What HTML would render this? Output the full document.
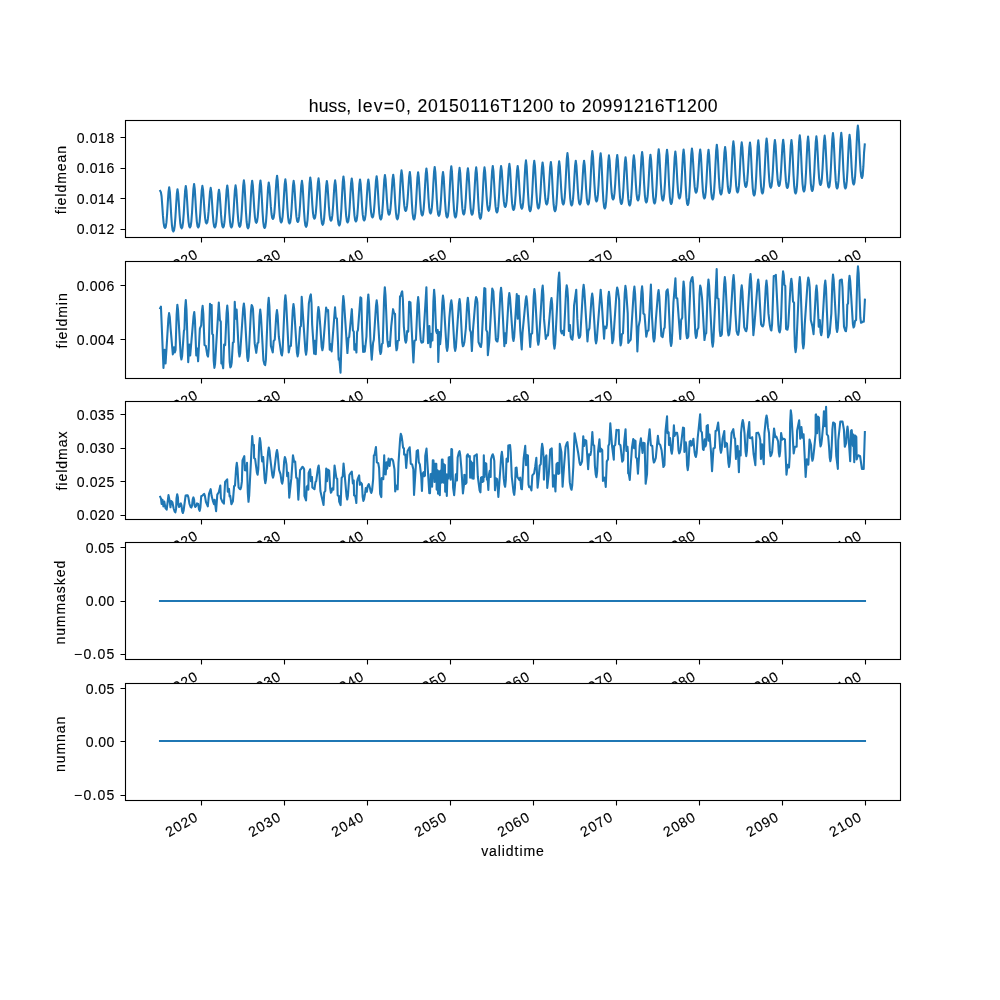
<!DOCTYPE html>
<html lang="en"><head><meta charset="utf-8"><title>huss, lev=0, 20150116T1200 to 20991216T1200</title>
<style>html,body{margin:0;padding:0;background:#fff}body{width:1000px;height:1000px;overflow:hidden}svg{display:block;will-change:transform}text{font-family:"Liberation Sans",sans-serif;fill:#000;stroke:#000;stroke-width:.15px}.t{font-size:14.05px}.ti{font-size:17.6px;stroke-width:.1px}.sp{fill:#fff;stroke:#000;stroke-width:1.111}.tk{stroke:#000;stroke-width:1.111;fill:none}.ln{fill:none;stroke:#1f77b4;stroke-width:2.083;stroke-linejoin:round;stroke-linecap:square}</style></head><body>
<svg width="1000" height="1000" viewBox="0 0 1000 1000">
<rect x="0" y="0" width="1000" height="1000" fill="#fff"/>
<g id="ax1">
<rect class="sp" x="125.5" y="120.5" width="775" height="117"/>
<polyline class="ln" points="160.23,191.00 160.90,192.20 161.57,196.22 162.26,205.57 162.95,215.63 163.65,223.12 164.34,227.01 165.04,228.00 165.74,226.87 166.43,222.44 167.12,213.90 167.81,202.43 168.52,191.78 169.19,187.20 169.88,192.18 170.57,203.74 171.27,216.19 171.96,225.46 172.65,230.27 173.36,231.50 174.05,230.33 174.74,225.73 175.44,216.89 176.13,204.99 176.83,193.95 177.50,189.20 178.17,193.59 178.87,203.80 179.56,214.79 180.25,222.97 180.94,227.22 181.65,228.30 182.34,227.13 183.03,222.53 183.73,213.69 184.42,201.79 185.12,190.75 185.79,186.00 186.46,190.66 187.16,201.50 187.85,213.16 188.54,221.84 189.24,226.35 189.94,227.50 190.63,226.29 191.33,221.57 192.02,212.47 192.71,200.24 193.42,188.89 194.09,184.00 194.76,188.89 195.45,200.24 196.14,212.47 196.83,221.57 197.53,226.29 198.23,227.50 198.92,226.34 199.62,221.82 200.31,213.09 201.00,201.37 201.71,190.48 202.38,185.80 203.07,190.04 203.76,199.88 204.46,210.47 205.15,218.36 205.84,222.46 206.55,223.50 207.24,222.51 207.93,218.63 208.62,211.17 209.32,201.13 210.02,191.81 210.69,187.80 211.36,192.26 212.05,202.62 212.75,213.78 213.44,222.09 214.13,226.40 214.84,227.50 215.53,226.45 216.22,222.35 216.92,214.44 217.61,203.81 218.31,193.95 218.98,189.70 219.65,193.95 220.35,203.81 221.04,214.44 221.73,222.35 222.42,226.45 223.13,227.50 223.82,226.34 224.51,221.77 225.21,212.99 225.90,201.18 226.60,190.22 227.27,185.50 227.94,190.22 228.64,201.18 229.33,212.99 230.02,221.77 230.72,226.34 231.42,227.50 232.11,226.33 232.81,221.75 233.50,212.92 234.19,201.06 234.90,190.04 235.57,185.30 236.26,189.96 236.95,200.80 237.64,212.46 238.34,221.14 239.03,225.65 239.73,226.80 240.43,225.51 241.12,220.46 241.81,210.73 242.51,197.66 243.21,185.52 243.88,180.30 244.55,185.69 245.24,198.22 245.94,211.72 246.63,221.76 247.32,226.97 248.03,228.30 248.72,226.98 249.41,221.81 250.10,211.85 250.80,198.47 251.50,186.05 252.17,180.70 252.84,185.43 253.53,196.42 254.23,208.25 254.92,217.06 255.61,221.63 256.32,222.80 257.01,221.63 257.70,217.03 258.40,208.19 259.09,196.29 259.79,185.25 260.46,180.50 261.13,185.84 261.83,198.24 262.52,211.59 263.21,221.53 263.90,226.68 264.61,228.00 265.30,226.74 265.99,221.80 266.69,212.28 267.38,199.49 268.08,187.61 268.75,182.50 269.45,186.60 270.14,196.13 270.83,206.39 271.53,214.02 272.22,217.99 272.92,219.00 273.62,217.80 274.31,213.10 275.00,204.04 275.69,191.87 276.40,180.56 277.07,175.70 277.74,180.96 278.43,193.18 279.12,206.33 279.82,216.12 280.51,221.20 281.21,222.50 281.91,221.30 282.60,216.61 283.29,207.57 283.99,195.43 284.69,184.15 285.36,179.30 286.03,184.27 286.72,195.80 287.42,208.23 288.11,217.47 288.80,222.27 289.51,223.50 290.20,222.32 290.89,217.68 291.58,208.75 292.28,196.74 292.98,185.60 293.65,180.80 294.32,185.43 295.01,196.18 295.71,207.77 296.40,216.38 297.09,220.86 297.80,222.00 298.49,220.86 299.18,216.38 299.88,207.77 300.57,196.18 301.27,185.43 301.94,180.80 302.64,185.97 303.33,197.98 304.02,210.91 304.71,220.53 305.41,225.53 306.11,226.80 306.80,225.43 307.50,220.08 308.19,209.77 308.88,195.91 309.59,183.04 310.26,177.50 310.93,182.13 311.62,192.88 312.31,204.47 313.01,213.08 313.70,217.56 314.40,218.70 315.10,217.58 315.79,213.19 316.48,204.74 317.17,193.39 317.88,182.84 318.55,178.30 319.22,183.52 319.91,195.66 320.60,208.73 321.30,218.46 321.99,223.51 322.69,224.80 323.39,223.59 324.08,218.83 324.77,209.67 325.47,197.36 326.17,185.92 326.84,181.00 327.51,185.46 328.20,195.82 328.90,206.98 329.59,215.29 330.28,219.60 330.99,220.70 331.68,219.58 332.37,215.19 333.06,206.74 333.76,195.39 334.46,184.84 335.13,180.30 335.82,185.38 336.52,197.18 337.21,209.88 337.90,219.34 338.60,224.25 339.30,225.50 339.99,224.14 340.69,218.82 341.38,208.57 342.07,194.80 342.78,182.00 343.45,176.50 344.12,181.67 344.81,193.68 345.50,206.61 346.19,216.23 346.89,221.23 347.59,222.50 348.28,221.28 348.98,216.50 349.67,207.30 350.36,194.93 351.07,183.44 351.74,178.50 352.41,183.33 353.10,194.56 353.79,206.64 354.49,215.64 355.18,220.31 355.88,221.50 356.58,220.34 357.27,215.77 357.96,206.99 358.65,195.18 359.36,184.22 360.03,179.50 360.70,184.11 361.39,194.81 362.08,206.33 362.78,214.91 363.47,219.36 364.17,220.50 364.87,219.36 365.56,214.91 366.25,206.33 366.95,194.81 367.65,184.11 368.32,179.50 369.01,183.77 369.71,193.69 370.40,204.37 371.09,212.32 371.78,216.45 372.49,217.50 373.18,216.36 373.87,211.87 374.57,203.23 375.26,191.62 375.96,180.84 376.63,176.20 377.30,181.06 378.00,192.37 378.69,204.54 379.38,213.60 380.08,218.30 380.78,219.50 381.47,218.27 382.17,213.43 382.86,204.13 383.55,191.62 384.26,180.00 384.93,175.00 385.60,179.46 386.29,189.82 386.98,200.98 387.67,209.29 388.37,213.60 389.07,214.70 389.76,213.59 390.46,209.25 391.15,200.88 391.84,189.64 392.55,179.19 393.22,174.70 393.89,179.71 394.58,191.35 395.27,203.89 395.97,213.22 396.66,218.06 397.36,219.30 398.06,217.94 398.75,212.62 399.44,202.37 400.13,188.60 400.84,175.80 401.51,170.30 402.20,174.87 402.89,185.50 403.59,196.94 404.28,205.45 404.97,209.87 405.68,211.00 406.37,209.92 407.06,205.68 407.76,197.53 408.45,186.56 409.15,176.38 409.82,172.00 410.49,177.34 411.19,189.74 411.88,203.09 412.57,213.03 413.26,218.18 413.97,219.50 414.66,218.19 415.35,213.05 416.05,203.16 416.74,189.86 417.44,177.51 418.11,172.20 418.78,177.06 419.48,188.37 420.17,200.54 420.86,209.60 421.56,214.30 422.26,215.50 422.95,214.20 423.65,209.09 424.34,199.26 425.03,186.05 425.74,173.78 426.41,168.50 427.08,173.56 427.77,185.30 428.46,197.95 429.15,207.37 429.85,212.25 430.55,213.50 431.24,212.21 431.94,207.16 432.63,197.43 433.32,184.36 434.03,172.22 434.70,167.00 435.39,172.48 436.08,185.22 436.78,198.94 437.47,209.15 438.16,214.45 438.87,215.80 439.56,214.59 440.25,209.83 440.94,200.67 441.64,188.36 442.34,176.92 443.01,172.00 443.68,177.11 444.37,188.99 445.07,201.78 445.76,211.30 446.45,216.24 447.16,217.50 447.85,216.08 448.54,210.51 449.24,199.78 449.93,185.36 450.63,171.96 451.30,166.20 451.97,171.96 452.67,185.36 453.36,199.78 454.05,210.51 454.74,216.08 455.45,217.50 456.14,216.12 456.83,210.73 457.53,200.33 458.22,186.36 458.92,173.38 459.59,167.80 460.26,173.05 460.96,185.24 461.65,198.37 462.34,208.13 463.04,213.21 463.74,214.50 464.43,213.22 465.13,208.19 465.82,198.50 466.51,185.49 467.22,173.40 467.89,168.20 468.58,173.42 469.27,185.56 469.96,198.63 470.66,208.36 471.35,213.41 472.05,214.70 472.75,213.39 473.44,208.24 474.13,198.32 474.83,185.00 475.53,172.63 476.20,167.30 476.87,173.07 477.56,186.49 478.26,200.94 478.95,211.69 479.64,217.28 480.35,218.70 481.04,217.28 481.73,211.69 482.42,200.94 483.12,186.49 483.82,173.07 484.49,167.30 485.16,172.19 485.85,183.54 486.55,195.77 487.24,204.87 487.93,209.59 488.64,210.80 489.33,209.56 490.02,204.69 490.72,195.32 491.41,182.73 492.11,171.03 492.78,166.00 493.45,171.22 494.15,183.36 494.84,196.43 495.53,206.16 496.22,211.21 496.93,212.50 497.62,211.21 498.31,206.16 499.01,196.43 499.70,183.36 500.40,171.22 501.07,166.00 501.77,170.61 502.46,181.31 503.15,192.83 503.85,201.41 504.54,205.86 505.24,207.00 505.93,205.80 506.63,201.11 507.32,192.07 508.01,179.93 508.72,168.65 509.39,163.80 510.06,168.99 510.75,181.05 511.44,194.04 512.14,203.70 512.83,208.72 513.53,210.00 514.23,208.78 514.92,204.00 515.61,194.80 516.30,182.43 517.01,170.94 517.68,166.00 518.35,170.80 519.04,181.94 519.74,193.95 520.43,202.88 521.12,207.52 521.83,208.70 522.52,207.36 523.21,202.10 523.90,191.98 524.60,178.37 525.30,165.74 525.97,160.30 526.64,166.02 527.33,179.31 528.03,193.61 528.72,204.26 529.41,209.79 530.12,211.20 530.81,209.80 531.50,204.33 532.20,193.79 532.89,179.62 533.59,166.46 534.26,160.80 534.96,166.16 535.65,178.61 536.34,192.02 537.03,202.00 537.73,207.18 538.43,208.50 539.12,207.23 539.82,202.23 540.51,192.61 541.20,179.68 541.91,167.67 542.58,162.50 543.25,167.22 543.94,178.18 544.63,189.99 545.33,198.77 546.02,203.34 546.72,204.50 547.41,203.32 548.11,198.71 548.80,189.82 549.49,177.87 550.20,166.77 550.87,162.00 551.54,167.53 552.23,180.37 552.92,194.20 553.62,204.49 554.31,209.84 555.01,211.20 555.71,209.81 556.40,204.38 557.09,193.93 557.78,179.87 558.49,166.82 559.16,161.20 559.83,166.06 560.52,177.37 561.22,189.54 561.91,198.60 562.60,203.30 563.30,204.50 564.00,203.07 564.69,197.48 565.38,186.71 566.08,172.23 566.78,158.79 567.45,153.00 568.14,158.90 568.84,172.60 569.53,187.36 570.22,198.34 570.91,204.04 571.62,205.50 572.31,204.26 573.00,199.39 573.70,190.02 574.39,177.43 575.09,165.73 575.76,160.70 576.43,165.62 577.13,177.06 577.82,189.37 578.51,198.53 579.21,203.29 579.91,204.50 580.60,203.29 581.30,198.53 581.99,189.37 582.68,177.06 583.39,165.62 584.06,160.70 584.73,165.62 585.42,177.06 586.11,189.37 586.80,198.53 587.50,203.29 588.20,204.50 588.89,203.02 589.59,197.21 590.28,186.02 590.97,170.98 591.68,157.01 592.35,151.00 593.02,156.67 593.71,169.86 594.40,184.05 595.10,194.62 595.79,200.10 596.49,201.50 597.19,200.16 597.88,194.92 598.57,184.81 599.26,171.24 599.97,158.63 600.64,153.20 601.33,159.41 602.02,173.85 602.72,189.39 603.41,200.96 604.10,206.97 604.81,208.50 605.50,207.03 606.19,201.25 606.89,190.12 607.58,175.17 608.28,161.28 608.95,155.30 609.62,160.27 610.32,171.80 611.01,184.23 611.70,193.47 612.39,198.27 613.10,199.50 613.79,198.27 614.48,193.43 615.18,184.13 615.87,171.62 616.57,160.00 617.24,155.00 617.91,160.50 618.61,173.30 619.30,187.07 619.99,197.32 620.69,202.64 621.39,204.00 622.08,202.70 622.78,197.62 623.47,187.83 624.16,174.68 624.87,162.46 625.54,157.20 626.21,162.63 626.90,175.24 627.59,188.81 628.28,198.92 628.98,204.16 629.68,205.50 630.37,204.11 631.07,198.66 631.76,188.16 632.45,174.04 633.16,160.94 633.83,155.30 634.52,160.38 635.21,172.18 635.91,184.88 636.60,194.34 637.29,199.25 638.00,200.50 638.69,199.16 639.38,193.89 640.07,183.74 640.77,170.11 641.47,157.45 642.14,152.00 642.81,157.67 643.50,170.86 644.20,185.05 644.89,195.62 645.58,201.10 646.29,202.50 646.98,201.18 647.67,195.98 648.37,185.99 649.06,172.55 649.76,160.07 650.43,154.70 651.10,160.18 651.80,172.92 652.49,186.64 653.18,196.85 653.87,202.15 654.58,203.50 655.27,202.00 655.96,196.10 656.66,184.74 657.35,169.48 658.05,155.30 658.72,149.20 659.39,154.96 660.09,168.36 660.78,182.78 661.47,193.51 662.17,199.08 662.87,200.50 663.56,199.09 664.26,193.58 664.95,182.95 665.64,168.67 666.35,155.41 667.02,149.70 667.71,155.80 668.40,169.98 669.09,185.24 669.79,196.60 670.48,202.50 671.18,204.00 671.88,202.54 672.57,196.84 673.26,185.86 673.96,171.10 674.66,157.40 675.33,151.50 676.00,156.78 676.69,169.05 677.39,182.26 678.08,192.09 678.77,197.20 679.48,198.50 680.17,197.14 680.86,191.82 681.55,181.57 682.25,167.80 682.95,155.00 683.62,149.50 684.29,155.74 684.98,170.22 685.68,185.83 686.37,197.43 687.06,203.46 687.77,205.00 688.46,203.43 689.15,197.30 689.85,185.48 690.54,169.60 691.24,154.85 691.91,148.50 692.58,153.47 693.28,165.00 693.97,177.43 694.66,186.67 695.35,191.47 696.06,192.70 696.75,191.50 697.44,186.81 698.14,177.77 698.83,165.63 699.53,154.35 700.20,149.50 700.90,155.00 701.59,167.80 702.28,181.57 702.98,191.82 703.67,197.14 704.37,198.50 705.07,197.15 705.76,191.85 706.45,181.64 707.14,167.92 707.85,155.18 708.52,149.70 709.19,155.29 709.88,168.30 710.57,182.29 711.27,192.71 711.96,198.12 712.66,199.50 713.36,197.98 714.05,192.03 714.74,180.57 715.44,165.16 716.14,150.86 716.81,144.70 717.48,150.29 718.17,163.30 718.87,177.29 719.56,187.71 720.25,193.12 720.96,194.50 721.65,193.18 722.34,188.03 723.03,178.09 723.73,164.74 724.43,152.34 725.10,147.00 725.77,152.17 726.46,164.18 727.16,177.11 727.85,186.73 728.54,191.73 729.25,193.00 729.94,191.57 730.63,185.95 731.33,175.14 732.02,160.60 732.72,147.11 733.39,141.30 734.09,147.05 734.78,160.42 735.47,174.81 736.16,185.52 736.86,191.08 737.56,192.50 738.25,191.11 738.95,185.66 739.64,175.16 740.33,161.04 741.04,147.94 741.71,142.30 742.38,147.32 743.07,158.99 743.76,171.56 744.46,180.91 745.15,185.76 745.85,187.00 746.55,185.77 747.24,180.93 747.93,171.63 748.62,159.12 749.33,147.50 750.00,142.50 750.67,148.45 751.36,162.29 752.05,177.19 752.75,188.28 753.44,194.03 754.14,195.50 754.84,193.97 755.53,187.98 756.22,176.43 756.92,160.91 757.62,146.50 758.29,140.30 758.96,146.28 759.65,160.17 760.35,175.12 761.04,186.25 761.73,192.03 762.44,193.50 763.13,191.98 763.82,186.00 764.51,174.50 765.21,159.04 765.91,144.68 766.58,138.50 767.27,144.03 767.97,156.87 768.66,170.70 769.35,180.99 770.05,186.34 770.75,187.70 771.44,186.38 772.14,181.20 772.83,171.22 773.52,157.81 774.23,145.36 774.90,140.00 775.57,145.17 776.26,157.18 776.95,170.11 777.64,179.73 778.34,184.73 779.04,186.00 779.73,184.72 780.43,179.69 781.12,170.00 781.81,156.99 782.52,144.90 783.19,139.70 783.86,145.13 784.55,157.74 785.24,171.31 785.94,181.42 786.63,186.66 787.33,188.00 788.03,186.67 788.72,181.46 789.41,171.42 790.10,157.92 790.81,145.39 791.48,140.00 792.15,146.01 792.84,159.98 793.53,175.02 794.23,186.21 794.92,192.02 795.62,193.50 796.32,191.89 797.01,185.57 797.70,173.39 798.40,157.03 799.10,141.84 799.77,135.30 800.46,141.61 801.16,156.29 801.85,172.08 802.54,183.84 803.23,189.94 803.94,191.50 804.63,189.98 805.32,184.00 806.02,172.50 806.71,157.04 807.41,142.68 808.08,136.50 808.75,142.62 809.45,156.85 810.14,172.17 810.83,183.57 811.53,189.49 812.23,191.00 812.92,189.48 813.62,183.54 814.31,172.10 815.00,156.73 815.71,142.45 816.38,136.30 817.05,141.77 817.74,154.48 818.43,168.17 819.12,178.36 819.82,183.65 820.52,185.00 821.21,183.63 821.91,178.25 822.60,167.90 823.29,153.98 824.00,141.06 824.67,135.50 825.34,141.34 826.03,154.92 826.72,169.53 827.42,180.41 828.11,186.06 828.81,187.50 829.51,185.99 830.20,180.07 830.89,168.67 831.58,153.35 832.29,139.12 832.96,133.00 833.65,139.24 834.34,153.72 835.04,169.33 835.73,180.93 836.42,186.96 837.13,188.50 837.82,186.96 838.51,180.91 839.21,169.26 839.90,153.60 840.60,139.06 841.27,132.80 841.94,139.06 842.64,153.60 843.33,169.26 844.02,180.91 844.71,186.96 845.42,188.50 846.11,187.01 846.80,181.18 847.50,169.95 848.19,154.85 848.89,140.83 849.56,134.80 850.23,140.38 850.93,153.36 851.62,167.33 852.31,177.73 853.01,183.12 853.71,184.50 854.40,182.86 855.10,176.46 855.79,164.12 856.48,147.53 857.19,132.13 857.86,125.50 858.53,131.40 859.22,145.10 859.91,159.86 860.60,170.84 861.30,176.54 862.00,178.00 862.69,175.66 863.39,166.43 864.08,152.29 864.77,144.50"/>
<path class="tk" d="M201.5 237.5v5M284.5 237.5v5M367.5 237.5v5M450.5 237.5v5M533.5 237.5v5M616.5 237.5v5M699.5 237.5v5M782.5 237.5v5M865.5 237.5v5M120.5 137.5h5M120.5 168.5h5M120.5 198.5h5M120.5 229.5h5"/>
<text class="t" x="114.30" y="142.55" text-anchor="end" textLength="37.45" lengthAdjust="spacing">0.018</text>
<text class="t" x="114.30" y="172.55" text-anchor="end" textLength="37.45" lengthAdjust="spacing">0.016</text>
<text class="t" x="114.30" y="203.55" text-anchor="end" textLength="37.45" lengthAdjust="spacing">0.014</text>
<text class="t" x="114.30" y="233.55" text-anchor="end" textLength="37.45" lengthAdjust="spacing">0.012</text>
<text class="t" transform="translate(198.55,257.44) rotate(-30)" text-anchor="end" textLength="34.13" lengthAdjust="spacing">2020</text>
<text class="t" transform="translate(281.54,257.44) rotate(-30)" text-anchor="end" textLength="34.13" lengthAdjust="spacing">2030</text>
<text class="t" transform="translate(364.50,257.44) rotate(-30)" text-anchor="end" textLength="34.13" lengthAdjust="spacing">2040</text>
<text class="t" transform="translate(447.48,257.44) rotate(-30)" text-anchor="end" textLength="34.13" lengthAdjust="spacing">2050</text>
<text class="t" transform="translate(530.44,257.44) rotate(-30)" text-anchor="end" textLength="34.13" lengthAdjust="spacing">2060</text>
<text class="t" transform="translate(613.42,257.44) rotate(-30)" text-anchor="end" textLength="34.13" lengthAdjust="spacing">2070</text>
<text class="t" transform="translate(696.38,257.44) rotate(-30)" text-anchor="end" textLength="34.13" lengthAdjust="spacing">2080</text>
<text class="t" transform="translate(779.37,257.44) rotate(-30)" text-anchor="end" textLength="34.13" lengthAdjust="spacing">2090</text>
<text class="t" transform="translate(862.33,257.44) rotate(-30)" text-anchor="end" textLength="34.13" lengthAdjust="spacing">2100</text>
<text class="t" transform="translate(65.90,180.12) rotate(-90)" text-anchor="middle" textLength="68.36" lengthAdjust="spacing">fieldmean</text>
<text class="ti" y="111.60"><tspan x="308.80" textLength="42.46" lengthAdjust="spacing">huss,</tspan> <tspan x="357.75" textLength="53.25" lengthAdjust="spacing">lev=0,</tspan> <tspan x="417.49" textLength="135.84" lengthAdjust="spacing">20150116T1200</tspan> <tspan x="559.81" textLength="15.48" lengthAdjust="spacing">to</tspan> <tspan x="581.77" textLength="135.84" lengthAdjust="spacing">20991216T1200</tspan></text>
</g>
<g id="ax2">
<rect class="sp" x="125.5" y="261.5" width="775" height="117"/>
<polyline class="ln" points="160.17,308.23 160.94,306.58 163.47,367.90 164.57,349.70 165.56,363.45 168.39,318.55 169.08,313.12 169.77,316.93 170.62,328.58 172.82,354.38 174.03,347.28 174.80,352.45 175.57,349.92 176.64,314.50 177.33,304.76 178.02,309.86 180.71,355.73 181.40,359.44 182.09,356.31 183.93,330.78 184.48,329.35 185.11,308.54 185.80,300.14 186.49,309.87 188.22,362.19 189.32,344.42 190.20,355.42 193.58,316.07 194.27,312.02 194.96,320.34 196.25,355.42 197.24,348.60 198.12,361.31 199.88,328.58 201.20,325.28 201.94,311.02 202.63,305.87 203.32,313.82 204.50,345.08 205.82,345.85 207.33,355.23 208.02,356.57 208.71,349.20 210.00,303.67 210.88,307.35 211.65,305.10 212.20,333.75 213.08,334.85 213.71,360.99 214.40,367.90 215.09,363.81 218.80,302.56 219.90,320.00 220.78,321.65 221.33,363.50 222.10,362.35 223.20,368.24 224.08,344.42 225.18,345.08 226.58,312.81 227.27,305.64 227.96,313.25 229.66,361.83 230.35,367.36 231.04,366.42 231.67,362.90 232.88,342.55 233.76,342.00 234.75,301.80 235.63,318.68 236.62,309.55 238.79,352.04 239.48,356.57 240.17,353.24 243.19,308.03 243.88,303.44 244.57,309.32 246.30,340.90 247.26,357.62 247.95,360.98 248.64,356.81 250.96,310.83 251.65,305.10 252.34,306.22 252.97,309.00 254.73,343.65 256.27,352.83 257.48,343.32 258.36,342.55 259.54,316.20 260.23,309.50 260.92,315.52 263.42,360.15 264.49,364.37 265.18,365.15 265.87,359.87 268.01,304.99 268.70,297.73 269.39,306.03 270.90,345.85 272.77,352.50 273.65,340.90 274.75,339.80 276.26,315.18 276.95,310.05 277.64,315.41 278.82,336.50 281.21,353.77 281.90,355.48 282.59,350.75 284.73,301.69 285.42,295.19 286.11,301.79 288.72,352.50 289.82,346.40 290.92,345.85 292.76,310.27 293.45,304.00 294.14,308.75 296.94,352.90 297.63,356.36 298.32,353.02 300.05,327.15 300.93,326.05 301.70,296.85 305.41,351.08 306.10,354.70 306.79,349.57 308.85,303.50 310.14,296.16 310.83,294.43 311.52,303.04 312.15,324.40 314.13,353.61 314.90,340.90 315.78,354.15 317.73,313.75 318.42,306.96 319.11,310.94 320.40,327.70 321.69,347.15 322.38,350.31 323.07,347.16 326.12,307.62 327.22,311.20 328.10,310.10 329.75,349.75 330.63,344.20 331.62,351.40 335.03,307.30 335.80,317.80 336.90,318.35 338.00,342.00 338.66,359.60 339.32,358.50 340.53,372.63 342.59,306.55 343.28,295.96 343.97,301.20 347.42,353.06 348.52,337.82 349.18,337.05 351.82,309.17 352.92,330.45 353.80,331.55 354.35,349.75 355.23,344.20 356.44,352.50 357.10,332.10 357.98,329.90 360.40,297.39 361.28,298.00 362.05,327.70 363.15,351.95 363.92,346.40 364.80,351.74 366.45,336.50 367.63,302.96 368.32,294.43 369.01,302.63 370.52,342.00 371.73,359.65 373.05,343.10 373.82,339.80 375.99,305.60 376.68,300.37 377.37,306.01 378.00,320.00 379.84,350.23 380.53,353.94 381.22,351.90 381.85,344.20 382.73,343.10 384.13,297.32 384.82,287.17 385.51,295.06 387.35,339.80 388.23,346.68 389.11,342.00 389.88,345.90 391.20,326.60 393.07,309.17 394.17,313.40 395.05,313.95 395.79,343.29 396.48,350.31 397.17,348.34 397.80,340.90 398.90,340.35 400.00,296.35 400.88,295.80 401.51,292.63 402.20,291.35 402.89,299.45 403.85,326.60 405.14,340.37 405.83,342.61 406.52,340.18 407.15,331.00 408.25,331.55 409.13,301.80 410.45,302.40 411.55,326.60 413.42,362.40 414.52,340.90 415.95,339.80 417.46,304.44 418.15,297.06 418.84,303.86 419.80,326.60 420.76,339.93 421.45,342.61 422.14,342.50 423.10,342.00 426.40,287.17 427.50,327.70 428.05,343.10 429.37,326.05 430.47,347.23 431.57,333.75 432.45,340.35 433.41,301.35 434.10,289.69 434.79,297.61 436.08,331.00 436.85,333.20 437.73,329.90 438.28,361.86 439.38,332.10 440.15,344.20 440.92,335.40 442.28,302.91 442.97,295.52 443.66,300.55 446.46,347.20 447.15,350.86 447.84,346.71 449.35,317.80 450.64,303.71 451.33,300.37 452.02,305.34 454.49,347.24 455.18,350.86 455.87,347.61 458.89,303.51 459.58,299.05 460.27,304.47 462.19,342.29 462.88,346.24 463.57,345.48 464.42,342.00 465.85,328.25 467.14,303.58 467.83,297.73 468.52,303.57 469.92,329.90 470.80,332.10 471.90,351.07 473.00,329.90 475.39,301.11 476.08,297.06 476.77,298.60 477.40,302.40 478.50,342.00 480.23,346.43 480.92,347.00 481.61,342.23 484.33,288.05 485.32,288.65 486.20,329.90 487.30,332.10 487.85,355.25 489.28,342.00 492.25,288.60 493.35,291.40 495.88,339.80 496.73,341.20 497.42,341.50 498.11,337.42 500.36,293.34 501.05,287.71 501.74,294.44 504.35,346.24 505.12,333.20 506.00,343.10 508.61,298.76 509.30,293.00 509.99,297.35 512.79,337.79 513.48,340.95 514.17,337.04 516.78,294.10 517.77,318.68 518.76,295.75 520.30,331.00 521.73,349.53 522.50,333.20 525.66,299.93 526.35,296.30 527.04,301.29 530.20,347.00 531.08,334.30 532.18,333.20 533.69,296.74 534.38,289.14 535.07,294.53 537.61,340.89 538.30,344.81 538.99,341.09 542.01,290.73 542.70,285.62 543.39,295.19 544.02,318.90 545.78,338.98 546.88,335.40 547.98,335.40 550.81,301.98 551.50,297.94 552.19,304.42 553.78,343.94 554.47,348.65 555.16,344.21 558.51,278.54 559.20,272.43 559.89,285.90 560.85,331.00 561.73,333.48 562.83,330.78 563.93,335.24 565.99,292.19 566.68,285.30 567.37,288.95 568.00,298.00 568.88,331.00 569.98,324.95 570.75,337.11 571.71,339.21 572.40,339.63 573.09,333.96 574.05,305.70 576.25,289.69 577.35,318.90 578.31,334.70 579.00,337.88 579.69,337.36 580.32,335.40 582.93,290.57 583.62,284.75 584.31,290.34 587.47,341.50 588.35,331.00 589.45,328.25 591.51,298.33 592.20,293.55 592.89,298.46 595.36,339.80 596.05,343.38 596.74,340.17 600.67,289.69 601.77,302.95 604.08,338.75 604.85,326.60 605.59,327.93 606.28,328.25 606.97,324.45 608.23,297.12 608.92,291.89 609.61,297.60 612.33,343.15 613.32,339.80 616.48,292.65 617.17,287.50 617.86,289.93 619.15,300.20 619.89,336.64 620.58,345.36 621.27,343.04 621.90,334.30 623.00,333.20 624.73,293.27 625.42,285.85 626.11,290.37 627.73,313.40 628.28,342.94 629.60,340.90 630.70,339.80 633.71,292.07 634.40,286.62 635.09,293.51 636.60,326.60 637.37,351.40 638.58,326.60 639.90,320.00 641.41,292.19 642.10,286.39 642.79,294.16 643.42,313.40 644.52,314.50 646.28,336.77 647.38,331.00 648.48,330.45 650.90,284.52 652.00,316.70 653.29,338.05 653.98,341.50 654.67,338.33 655.85,320.00 657.91,294.16 658.60,290.02 659.29,296.37 661.35,336.00 662.67,337.11 663.88,328.80 664.65,327.70 666.30,291.95 666.93,290.11 667.62,289.37 668.31,295.66 670.34,341.33 671.03,345.90 671.72,342.79 672.35,331.00 673.45,302.40 675.43,278.37 676.20,298.00 677.30,298.55 680.27,338.98 681.15,320.00 682.25,317.80 682.88,291.90 683.57,281.44 684.26,287.76 686.29,333.61 686.98,338.20 687.67,337.85 688.30,336.50 690.50,282.60 691.79,278.11 692.48,277.05 693.17,283.60 695.31,333.11 696.00,337.88 696.69,336.21 697.32,329.90 698.42,327.70 699.49,294.70 700.18,285.62 700.87,288.14 702.05,298.00 704.47,340.07 705.35,334.30 706.23,333.20 707.74,288.73 708.43,279.46 709.12,285.41 712.03,342.35 712.72,346.68 713.41,341.27 716.68,269.12 717.45,298.00 718.55,299.10 719.73,330.56 720.42,336.00 721.11,335.68 721.85,334.30 724.13,284.36 724.82,277.05 725.51,283.04 727.83,331.10 728.52,335.45 729.21,334.17 729.95,328.80 732.89,280.68 733.58,275.06 734.27,282.84 735.45,313.40 736.55,331.06 737.51,334.26 738.20,334.90 738.89,331.02 741.03,290.64 741.72,285.30 742.41,291.58 744.25,327.20 745.54,330.71 746.23,331.27 746.92,328.23 747.55,316.70 749.83,279.43 750.52,273.96 751.21,282.10 753.38,335.24 754.48,324.40 757.53,284.02 758.22,279.46 758.91,285.13 760.20,309.00 761.08,324.24 762.04,326.07 762.73,326.44 763.42,325.09 764.05,320.00 765.78,286.75 766.47,280.56 767.16,286.86 768.45,313.40 769.88,325.56 770.73,329.62 771.42,330.50 772.11,323.99 773.73,275.94 774.72,276.00 775.82,274.85 777.80,313.40 778.35,325.00 778.98,330.83 779.67,332.38 780.36,329.56 781.10,317.80 782.39,280.23 783.08,271.32 783.77,275.20 784.40,284.80 785.28,285.90 786.05,328.86 786.79,329.57 787.48,329.74 788.17,326.08 790.64,283.73 791.33,278.69 792.02,283.89 792.98,301.30 794.08,302.95 794.30,326.60 794.93,346.83 795.62,352.18 796.31,347.21 799.11,283.87 799.80,277.05 800.49,284.74 802.63,342.84 803.32,348.44 804.01,343.80 804.75,324.40 807.58,282.64 808.27,277.60 808.96,280.09 809.70,287.00 810.80,320.00 812.45,326.60 813.55,334.13 815.83,291.82 816.52,285.62 817.21,292.70 818.72,326.65 819.82,320.00 820.56,332.29 821.25,335.24 821.94,331.51 824.61,285.69 825.30,280.56 825.99,287.86 826.95,312.30 828.05,337.44 829.70,333.20 831.35,313.40 832.31,283.54 833.00,274.62 833.69,279.97 836.38,328.05 837.07,331.94 837.76,328.65 838.72,312.30 839.82,280.40 841.11,279.64 841.80,279.46 842.49,287.60 844.00,326.60 845.29,330.62 845.98,331.27 846.67,325.70 847.30,304.60 848.07,303.50 848.81,283.10 849.50,275.73 850.19,280.56 852.88,324.02 853.57,327.53 854.26,326.29 855.00,321.10 856.10,320.00 857.28,277.17 857.97,266.26 858.66,273.23 860.36,317.74 861.05,322.81 861.74,322.61 862.70,321.65 863.80,321.65 864.90,299.65"/>
<path class="tk" d="M201.5 378.5v5M284.5 378.5v5M367.5 378.5v5M450.5 378.5v5M533.5 378.5v5M616.5 378.5v5M699.5 378.5v5M782.5 378.5v5M865.5 378.5v5M120.5 285.5h5M120.5 339.5h5"/>
<text class="t" x="114.30" y="290.55" text-anchor="end" textLength="37.45" lengthAdjust="spacing">0.006</text>
<text class="t" x="114.30" y="344.55" text-anchor="end" textLength="37.45" lengthAdjust="spacing">0.004</text>
<text class="t" transform="translate(198.55,398.13) rotate(-30)" text-anchor="end" textLength="34.13" lengthAdjust="spacing">2020</text>
<text class="t" transform="translate(281.54,398.13) rotate(-30)" text-anchor="end" textLength="34.13" lengthAdjust="spacing">2030</text>
<text class="t" transform="translate(364.50,398.13) rotate(-30)" text-anchor="end" textLength="34.13" lengthAdjust="spacing">2040</text>
<text class="t" transform="translate(447.48,398.13) rotate(-30)" text-anchor="end" textLength="34.13" lengthAdjust="spacing">2050</text>
<text class="t" transform="translate(530.44,398.13) rotate(-30)" text-anchor="end" textLength="34.13" lengthAdjust="spacing">2060</text>
<text class="t" transform="translate(613.42,398.13) rotate(-30)" text-anchor="end" textLength="34.13" lengthAdjust="spacing">2070</text>
<text class="t" transform="translate(696.38,398.13) rotate(-30)" text-anchor="end" textLength="34.13" lengthAdjust="spacing">2080</text>
<text class="t" transform="translate(779.37,398.13) rotate(-30)" text-anchor="end" textLength="34.13" lengthAdjust="spacing">2090</text>
<text class="t" transform="translate(862.33,398.13) rotate(-30)" text-anchor="end" textLength="34.13" lengthAdjust="spacing">2100</text>
<text class="t" transform="translate(66.90,320.81) rotate(-90)" text-anchor="middle" textLength="55.17" lengthAdjust="spacing">fieldmin</text>
</g>
<g id="ax3">
<rect class="sp" x="125.5" y="401.5" width="775" height="118"/>
<polyline class="ln" points="160.22,496.80 161.00,498.60 161.60,504.00 162.50,499.80 163.40,506.40 164.30,501.60 165.50,508.20 166.70,509.70 168.50,495.12 169.70,501.00 170.48,507.30 171.20,501.00 172.40,502.20 173.60,508.20 174.71,511.59 175.40,512.40 176.09,508.92 176.51,498.40 177.20,494.22 177.89,497.16 178.31,504.55 179.00,507.00 179.69,506.31 180.11,504.23 180.80,503.40 181.49,505.29 182.21,511.42 182.90,513.00 183.59,510.78 185.60,495.60 187.01,495.36 187.70,495.30 188.39,497.30 189.50,504.00 190.61,506.91 191.30,507.60 191.99,505.92 192.71,499.41 193.40,497.40 194.09,499.61 194.51,505.16 195.20,507.00 195.89,506.31 197.00,503.40 198.20,504.00 199.01,509.31 199.70,510.90 200.39,507.52 201.20,496.20 202.40,495.60 203.51,494.31 204.20,493.92 204.89,495.82 206.00,502.20 207.80,506.40 209.00,493.80 210.68,489.12 211.60,495.80 212.80,500.60 214.00,504.20 214.60,499.70 216.10,511.10 217.30,494.60 218.80,492.20 220.30,485.60 220.90,498.20 222.40,501.80 223.90,503.60 225.10,482.00 227.20,479.30 227.80,491.60 229.00,488.90 229.60,496.40 230.20,495.80 231.40,504.20 232.90,501.20 234.10,486.20 235.00,485.60 236.11,468.04 236.80,462.80 237.49,468.46 238.60,487.40 239.71,488.85 240.40,489.20 241.09,487.41 241.90,481.40 242.50,460.40 244.30,456.20 244.90,470.30 246.40,470.60 247.00,462.80 247.81,492.83 248.50,501.80 249.19,495.69 252.21,436.09 252.84,444.00 253.96,445.05 254.10,458.00 255.15,459.05 256.91,472.58 257.60,474.80 258.29,469.14 259.15,444.84 259.84,438.05 260.53,442.27 261.66,456.60 262.15,461.50 263.20,456.95 264.61,478.89 265.30,483.20 265.99,479.68 268.11,451.72 268.80,447.50 269.49,450.61 270.20,458.00 272.31,475.19 273.00,477.60 273.69,475.22 276.31,452.90 277.00,450.05 277.69,453.98 279.10,470.00 280.50,474.20 281.56,481.79 282.25,483.65 282.94,480.11 284.15,461.30 284.84,457.05 285.53,458.94 286.45,464.40 287.15,476.30 288.20,472.80 289.25,497.65 291.00,481.20 291.35,478.40 292.96,455.30 294.15,461.60 295.20,461.60 296.25,477.70 297.30,478.40 298.35,499.75 300.10,470.00 301.15,468.95 301.86,467.47 302.55,466.85 303.24,467.48 304.16,469.30 304.44,495.90 306.05,500.45 306.75,486.80 307.80,485.40 308.36,489.60 308.64,472.80 310.11,469.30 310.95,481.20 312.00,477.00 312.35,487.50 314.45,489.25 315.50,481.90 316.20,481.20 317.96,468.11 318.65,465.45 319.34,471.49 320.40,491.00 323.55,505.00 324.25,492.40 325.30,491.00 326.21,468.60 327.05,481.20 327.75,469.65 329.15,470.70 330.21,488.40 330.90,492.75 331.59,491.63 332.30,488.20 333.35,489.60 334.54,465.45 336.40,478.15 337.24,478.85 337.66,495.30 338.85,496.00 339.20,501.60 340.60,505.10 341.65,477.80 342.70,476.40 343.54,463.45 344.80,476.40 346.56,496.25 347.25,499.50 347.94,495.48 349.35,475.00 350.75,472.90 351.80,471.50 352.85,483.40 353.76,480.60 354.04,495.30 355.30,496.00 356.35,503.00 357.05,482.00 357.75,478.85 359.15,475.35 359.85,484.80 360.90,482.70 361.95,484.10 362.66,496.76 363.35,500.90 364.04,499.38 365.10,493.20 365.80,487.95 366.85,491.80 367.55,486.55 368.81,484.10 370.00,488.30 370.71,491.73 371.40,492.85 372.09,490.16 373.15,479.20 373.85,455.40 374.55,455.05 375.95,447.00 376.86,462.40 378.26,463.10 379.10,468.00 380.15,493.90 381.34,497.05 381.69,478.15 383.30,479.20 384.21,455.40 384.70,473.60 385.75,474.30 386.45,462.40 387.15,468.70 388.55,458.55 389.60,465.90 390.30,459.60 391.01,459.11 391.70,458.90 392.39,459.52 393.10,461.00 394.50,469.40 395.20,491.45 396.60,485.50 397.65,489.35 398.50,463.00 400.12,438.98 400.81,433.74 401.50,435.77 402.35,441.30 403.05,447.60 403.96,448.30 404.10,454.60 405.36,454.60 406.20,467.90 407.60,451.10 409.70,447.25 410.75,463.70 412.15,464.40 413.34,469.30 414.04,494.85 416.00,463.00 416.70,451.10 417.96,450.05 418.80,462.30 419.85,464.40 421.25,477.00 421.95,491.00 422.65,473.50 423.70,472.10 424.05,476.30 424.96,475.60 425.24,456.00 426.50,448.65 429.30,493.10 430.00,493.10 430.70,474.20 431.75,473.50 432.10,486.80 432.80,460.20 433.50,460.55 434.55,481.90 435.25,463.70 436.30,463.70 436.65,489.60 437.35,470.00 438.05,493.80 438.75,471.40 439.80,495.20 440.50,470.70 441.20,482.60 441.90,459.50 442.60,459.50 443.30,482.60 444.00,464.40 444.91,465.10 445.19,491.70 446.10,474.20 446.80,495.90 447.50,474.20 448.41,478.40 448.69,457.40 449.95,457.05 450.65,479.80 451.35,449.00 452.05,449.35 453.10,487.50 454.15,495.20 455.90,474.20 456.95,480.50 457.65,457.40 458.85,452.48 459.54,451.10 460.23,455.00 461.40,468.60 462.94,493.45 464.06,484.00 464.34,474.90 465.25,475.25 465.60,484.00 466.51,482.60 466.79,456.00 467.70,454.25 468.75,456.70 469.80,456.00 470.15,477.70 471.20,461.60 472.25,478.40 472.95,463.00 473.65,478.75 474.35,456.00 475.75,455.30 476.80,454.25 477.85,477.00 479.60,490.30 480.44,492.40 481.00,477.70 482.26,477.00 482.54,481.90 483.45,481.20 483.80,455.30 484.50,477.00 485.20,463.00 486.25,463.70 486.95,479.80 487.65,479.80 488.35,489.95 489.05,474.20 489.75,470.70 490.66,477.00 490.94,459.50 492.07,455.44 492.76,454.25 493.45,456.04 494.30,460.90 495.00,490.30 496.05,478.40 497.10,479.10 498.36,496.95 500.25,470.00 501.17,456.48 501.86,451.80 502.55,457.63 503.75,478.40 504.46,484.73 505.15,486.80 505.84,479.90 506.55,458.80 507.60,458.10 507.95,461.60 508.30,445.50 509.36,445.23 510.05,445.15 510.74,452.68 511.80,477.00 513.56,492.34 514.25,494.85 514.94,488.21 515.65,467.90 516.56,467.55 517.40,477.00 519.15,479.80 520.20,477.70 521.25,488.90 521.95,489.25 522.65,477.00 523.70,458.10 525.24,445.85 526.05,465.25 526.75,455.10 527.94,455.45 528.50,484.50 529.20,487.30 530.25,486.60 531.44,490.45 532.35,475.40 534.10,473.30 535.15,467.00 536.34,457.90 537.60,487.65 538.65,478.20 539.70,465.60 540.75,464.20 541.46,449.90 542.15,443.90 542.84,447.83 543.55,457.20 543.90,479.60 544.95,458.60 546.35,455.45 547.26,488.00 548.80,474.00 550.20,449.50 551.74,448.45 553.00,486.60 554.05,475.40 555.45,491.50 556.50,464.20 557.55,462.80 558.25,474.00 559.30,473.30 559.79,443.90 561.40,452.30 562.59,486.60 564.20,464.20 565.60,446.70 566.80,443.15 567.49,442.15 568.18,449.36 569.80,482.40 570.86,488.30 571.55,489.75 572.24,485.26 573.30,467.00 574.56,433.26 576.10,441.10 578.20,453.00 579.61,462.94 580.30,464.90 580.99,464.21 582.05,461.40 583.24,436.20 584.15,446.00 584.85,440.05 586.25,440.75 588.14,469.10 589.05,454.40 589.76,454.93 590.45,455.10 591.14,450.88 592.34,432.00 593.15,444.60 594.20,445.65 594.90,465.60 595.75,474.56 596.44,477.15 597.13,471.67 598.05,451.60 599.45,439.35 600.15,451.60 601.20,448.80 602.25,450.20 602.95,481.00 603.66,478.54 604.35,477.50 605.04,480.29 605.75,486.95 606.80,461.40 608.06,459.30 608.34,446.00 609.25,443.90 610.30,423.25 612.05,446.00 613.80,459.65 614.15,446.00 615.20,444.95 616.46,429.90 617.65,430.25 618.70,429.90 619.05,443.90 620.45,445.30 622.20,461.75 623.25,460.00 624.30,441.10 625.56,429.20 626.40,450.90 627.45,446.70 627.94,452.30 628.15,473.30 628.85,474.00 629.76,479.95 630.60,467.00 632.00,447.40 633.26,439.00 634.10,448.10 634.80,440.40 635.50,441.10 635.85,457.20 636.90,458.60 637.95,473.65 639.70,446.00 640.89,438.30 641.80,446.00 642.50,453.00 643.34,442.85 644.60,443.20 645.65,483.80 647.05,474.00 647.75,446.00 649.64,429.20 650.90,445.30 652.30,446.00 653.15,458.76 653.84,462.45 654.53,461.65 655.80,457.90 657.90,435.85 658.85,443.60 660.25,445.00 661.65,450.60 663.40,467.05 664.45,465.30 665.50,431.00 667.04,416.30 667.60,433.10 668.65,432.40 669.00,445.00 670.05,438.00 671.11,450.64 671.80,453.75 672.49,449.09 673.90,425.40 674.60,435.90 675.65,433.10 676.36,432.85 677.05,432.75 677.74,436.82 678.46,450.01 679.15,453.40 679.84,452.36 680.55,449.20 683.00,427.50 684.05,428.20 684.40,452.00 685.11,445.10 685.80,442.20 686.49,448.11 687.07,465.27 687.76,470.20 688.45,464.96 689.65,441.50 690.70,440.80 691.40,445.70 692.45,444.30 693.36,438.70 694.55,452.00 695.26,455.69 695.95,456.90 696.64,453.17 697.70,438.00 700.15,414.20 700.85,431.00 701.90,432.40 702.95,449.20 703.65,449.90 704.70,439.40 705.40,446.40 706.10,444.30 706.66,426.10 707.85,425.05 708.55,440.80 709.60,434.50 711.00,452.00 712.05,471.25 713.45,448.50 714.85,447.80 715.55,431.00 716.60,430.65 718.14,422.60 719.40,436.60 720.25,449.09 720.94,452.70 721.63,449.70 722.55,438.70 724.30,431.00 724.90,447.00 725.95,442.80 727.00,443.50 728.41,463.10 729.10,466.95 729.79,462.17 731.55,433.00 733.30,429.15 734.35,437.90 735.05,438.60 735.96,458.90 736.45,447.00 737.64,445.95 738.90,472.20 739.60,451.20 740.65,455.40 741.00,433.00 742.06,423.11 742.75,420.05 743.44,423.11 744.50,433.00 745.56,451.55 746.25,456.10 746.94,450.92 747.65,435.10 749.26,422.15 749.75,437.90 751.15,438.25 752.20,437.20 753.60,454.00 755.35,465.20 756.40,433.00 758.15,432.65 759.20,435.10 760.25,440.00 760.95,458.90 762.00,444.20 763.75,464.15 764.45,433.00 765.86,418.95 766.55,415.50 767.24,419.02 767.95,427.40 769.00,433.00 769.85,450.92 770.54,456.10 771.23,455.20 772.15,451.90 774.04,428.45 775.30,437.20 776.35,436.50 778.10,441.40 778.81,452.74 779.50,456.45 780.19,451.43 781.11,433.00 782.25,439.60 782.91,438.98 783.60,438.70 784.29,438.98 784.95,439.60 786.48,474.70 787.65,464.80 788.31,466.81 789.00,467.50 789.69,456.55 790.11,423.49 790.80,410.35 791.49,415.46 792.15,427.00 793.68,453.55 794.85,446.80 796.65,446.80 797.10,430.60 799.17,420.25 800.25,438.70 801.42,427.00 802.50,437.80 803.58,434.20 804.12,445.00 805.65,476.95 806.82,459.40 808.35,464.80 809.52,439.60 811.05,445.00 811.71,456.73 812.40,460.75 813.09,458.42 814.20,448.60 815.55,434.20 815.67,414.85 816.00,414.40 817.08,433.30 817.80,416.65 818.88,417.55 819.81,440.22 820.50,446.35 821.19,444.63 821.85,439.60 823.20,425.20 823.92,411.25 825.00,426.10 826.08,406.75 826.80,434.20 828.15,436.00 829.05,446.80 829.71,457.52 830.40,461.20 831.09,457.06 831.75,445.00 832.41,429.40 833.10,422.50 833.79,422.81 834.90,423.85 836.25,455.80 837.87,468.85 838.23,440.50 840.30,421.60 842.55,421.60 843.90,429.70 844.80,446.80 846.15,443.20 846.81,431.66 847.50,426.55 848.19,431.86 850.20,461.20 851.10,430.60 851.73,430.15 852.90,445.90 853.35,434.65 854.25,462.10 855.15,435.55 856.32,436.90 856.68,459.40 857.61,456.39 858.30,455.35 858.99,455.56 860.10,456.25 861.90,468.85 863.70,468.85 864.87,431.95"/>
<path class="tk" d="M201.5 519.5v5M284.5 519.5v5M367.5 519.5v5M450.5 519.5v5M533.5 519.5v5M616.5 519.5v5M699.5 519.5v5M782.5 519.5v5M865.5 519.5v5M120.5 414.5h5M120.5 448.5h5M120.5 481.5h5M120.5 515.5h5"/>
<text class="t" x="114.30" y="419.55" text-anchor="end" textLength="37.45" lengthAdjust="spacing">0.035</text>
<text class="t" x="114.30" y="452.55" text-anchor="end" textLength="37.45" lengthAdjust="spacing">0.030</text>
<text class="t" x="114.30" y="486.55" text-anchor="end" textLength="37.45" lengthAdjust="spacing">0.025</text>
<text class="t" x="114.30" y="519.55" text-anchor="end" textLength="37.45" lengthAdjust="spacing">0.020</text>
<text class="t" transform="translate(198.55,538.82) rotate(-30)" text-anchor="end" textLength="34.13" lengthAdjust="spacing">2020</text>
<text class="t" transform="translate(281.54,538.82) rotate(-30)" text-anchor="end" textLength="34.13" lengthAdjust="spacing">2030</text>
<text class="t" transform="translate(364.50,538.82) rotate(-30)" text-anchor="end" textLength="34.13" lengthAdjust="spacing">2040</text>
<text class="t" transform="translate(447.48,538.82) rotate(-30)" text-anchor="end" textLength="34.13" lengthAdjust="spacing">2050</text>
<text class="t" transform="translate(530.44,538.82) rotate(-30)" text-anchor="end" textLength="34.13" lengthAdjust="spacing">2060</text>
<text class="t" transform="translate(613.42,538.82) rotate(-30)" text-anchor="end" textLength="34.13" lengthAdjust="spacing">2070</text>
<text class="t" transform="translate(696.38,538.82) rotate(-30)" text-anchor="end" textLength="34.13" lengthAdjust="spacing">2080</text>
<text class="t" transform="translate(779.37,538.82) rotate(-30)" text-anchor="end" textLength="34.13" lengthAdjust="spacing">2090</text>
<text class="t" transform="translate(862.33,538.82) rotate(-30)" text-anchor="end" textLength="34.13" lengthAdjust="spacing">2100</text>
<text class="t" transform="translate(66.90,461.00) rotate(-90)" text-anchor="middle" textLength="59.24" lengthAdjust="spacing">fieldmax</text>
</g>
<g id="ax4">
<rect class="sp" x="125.5" y="542.5" width="775" height="117"/>
<polyline class="ln" points="160.00,601.00 865.00,601.00"/>
<path class="tk" d="M201.5 659.5v5M284.5 659.5v5M367.5 659.5v5M450.5 659.5v5M533.5 659.5v5M616.5 659.5v5M699.5 659.5v5M782.5 659.5v5M865.5 659.5v5M120.5 547.5h5M120.5 601.5h5M120.5 654.5h5"/>
<text class="t" x="114.30" y="552.55" text-anchor="end" textLength="28.62" lengthAdjust="spacing">0.05</text>
<text class="t" x="114.30" y="605.55" text-anchor="end" textLength="28.62" lengthAdjust="spacing">0.00</text>
<text class="t" x="114.30" y="658.55" text-anchor="end" textLength="40.26" lengthAdjust="spacing">−0.05</text>
<text class="t" transform="translate(198.55,679.51) rotate(-30)" text-anchor="end" textLength="34.13" lengthAdjust="spacing">2020</text>
<text class="t" transform="translate(281.54,679.51) rotate(-30)" text-anchor="end" textLength="34.13" lengthAdjust="spacing">2030</text>
<text class="t" transform="translate(364.50,679.51) rotate(-30)" text-anchor="end" textLength="34.13" lengthAdjust="spacing">2040</text>
<text class="t" transform="translate(447.48,679.51) rotate(-30)" text-anchor="end" textLength="34.13" lengthAdjust="spacing">2050</text>
<text class="t" transform="translate(530.44,679.51) rotate(-30)" text-anchor="end" textLength="34.13" lengthAdjust="spacing">2060</text>
<text class="t" transform="translate(613.42,679.51) rotate(-30)" text-anchor="end" textLength="34.13" lengthAdjust="spacing">2070</text>
<text class="t" transform="translate(696.38,679.51) rotate(-30)" text-anchor="end" textLength="34.13" lengthAdjust="spacing">2080</text>
<text class="t" transform="translate(779.37,679.51) rotate(-30)" text-anchor="end" textLength="34.13" lengthAdjust="spacing">2090</text>
<text class="t" transform="translate(862.33,679.51) rotate(-30)" text-anchor="end" textLength="34.13" lengthAdjust="spacing">2100</text>
<text class="t" transform="translate(65.30,602.69) rotate(-90)" text-anchor="middle" textLength="83.82" lengthAdjust="spacing">nummasked</text>
</g>
<g id="ax5">
<rect class="sp" x="125.5" y="683.5" width="775" height="117"/>
<polyline class="ln" points="160.00,741.00 865.00,741.00"/>
<path class="tk" d="M201.5 800.5v5M284.5 800.5v5M367.5 800.5v5M450.5 800.5v5M533.5 800.5v5M616.5 800.5v5M699.5 800.5v5M782.5 800.5v5M865.5 800.5v5M120.5 688.5h5M120.5 741.5h5M120.5 795.5h5"/>
<text class="t" x="114.30" y="693.55" text-anchor="end" textLength="28.62" lengthAdjust="spacing">0.05</text>
<text class="t" x="114.30" y="746.55" text-anchor="end" textLength="28.62" lengthAdjust="spacing">0.00</text>
<text class="t" x="114.30" y="799.55" text-anchor="end" textLength="40.26" lengthAdjust="spacing">−0.05</text>
<text class="t" transform="translate(198.55,820.20) rotate(-30)" text-anchor="end" textLength="34.13" lengthAdjust="spacing">2020</text>
<text class="t" transform="translate(281.54,820.20) rotate(-30)" text-anchor="end" textLength="34.13" lengthAdjust="spacing">2030</text>
<text class="t" transform="translate(364.50,820.20) rotate(-30)" text-anchor="end" textLength="34.13" lengthAdjust="spacing">2040</text>
<text class="t" transform="translate(447.48,820.20) rotate(-30)" text-anchor="end" textLength="34.13" lengthAdjust="spacing">2050</text>
<text class="t" transform="translate(530.44,820.20) rotate(-30)" text-anchor="end" textLength="34.13" lengthAdjust="spacing">2060</text>
<text class="t" transform="translate(613.42,820.20) rotate(-30)" text-anchor="end" textLength="34.13" lengthAdjust="spacing">2070</text>
<text class="t" transform="translate(696.38,820.20) rotate(-30)" text-anchor="end" textLength="34.13" lengthAdjust="spacing">2080</text>
<text class="t" transform="translate(779.37,820.20) rotate(-30)" text-anchor="end" textLength="34.13" lengthAdjust="spacing">2090</text>
<text class="t" transform="translate(862.33,820.20) rotate(-30)" text-anchor="end" textLength="34.13" lengthAdjust="spacing">2100</text>
<text class="t" transform="translate(65.30,744.38) rotate(-90)" text-anchor="middle" textLength="55.26" lengthAdjust="spacing">numnan</text>
<text class="t" x="512.5" y="855.60" text-anchor="middle" textLength="62.65" lengthAdjust="spacing">validtime</text>
</g>
</svg></body></html>
